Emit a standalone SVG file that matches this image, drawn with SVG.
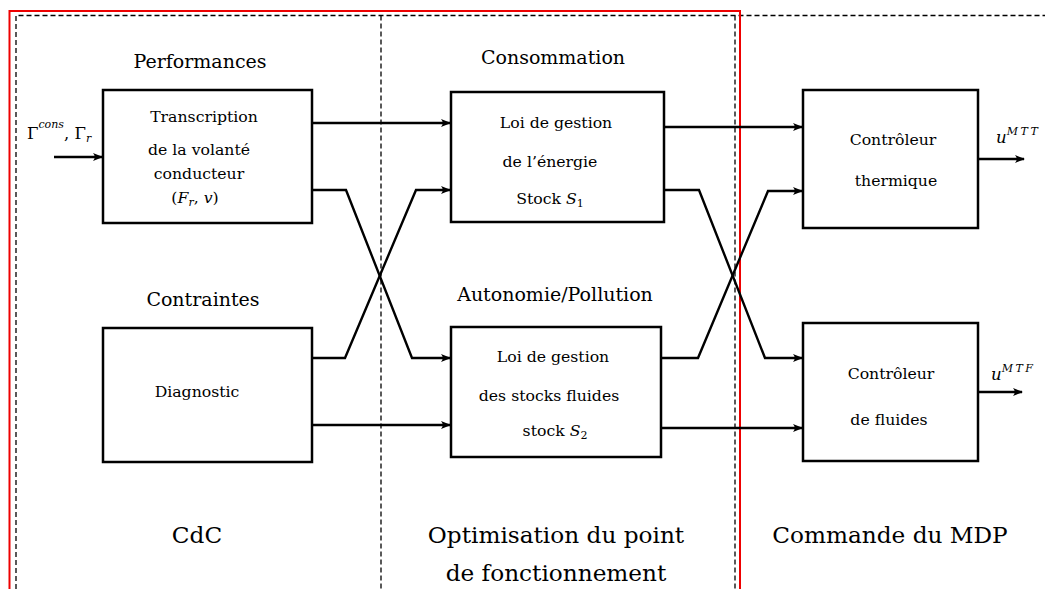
<svg xmlns="http://www.w3.org/2000/svg" width="1045" height="589" viewBox="0 0 1045 589">
<style>
text{font-family:'DejaVu Serif',serif;fill:#000}
.h{font-size:19px;text-anchor:middle}
.b{font-size:15.7px;text-anchor:middle}
.big{font-size:23.2px;text-anchor:middle}
.m{font-size:16.5px}
.s{font-size:11px;font-style:italic}
.sc{font-size:11px;font-style:italic;letter-spacing:2.5px}
.i{font-style:italic}
.box{fill:#fff;stroke:#000;stroke-width:2.5}
.c{fill:none;stroke:#000;stroke-width:2.4;marker-end:url(#arr)}
.d{fill:none;stroke:#000;stroke-width:1.3;stroke-dasharray:5,3}
</style>
<defs>
<marker id="arr" markerWidth="11" markerHeight="10" refX="9" refY="5" orient="auto" markerUnits="userSpaceOnUse">
<path d="M0,1 Q3.5,5 0,9 L10,5 Z" fill="#000"/>
</marker>
</defs>
<rect width="1045" height="589" fill="#fff"/>
<g id="frames">
<path class="d" d="M16,589 V15.5 H1045"/>
<path class="d" d="M381,15.5 V589"/>
<path class="d" d="M735,15.5 V589"/>
<path d="M9.5,589 V11 H740 V589" fill="none" stroke="#e00" stroke-width="2"/>
</g>
<g id="connectors">
<path class="c" d="M54,157 H102"/>
<path class="c" d="M312,123 H450"/>
<path class="c" d="M312,190 H346 L412,358 H450"/>
<path class="c" d="M312,358 H345 L416,190 H450"/>
<path class="c" d="M312,425 H450"/>
<path class="c" d="M664,127 H802"/>
<path class="c" d="M664,190 H699 L765,358 H802"/>
<path class="c" d="M661,358 H698 L768,191 H802"/>
<path class="c" d="M661,428 H802"/>
<path class="c" d="M978,159 H1024"/>
<path class="c" d="M978,392 H1022"/>
</g>
<g id="labels">
<text class="h" x="200" y="68">Performances</text>
<text class="h" x="553" y="64">Consommation</text>
<text class="h" x="203" y="306">Contraintes</text>
<text class="h" x="555" y="301">Autonomie/Pollution</text>
<text class="big" x="197" y="543">CdC</text>
<text class="big" x="556" y="543">Optimisation du point</text>
<text class="big" x="556" y="581">de fonctionnement</text>
<text class="big" x="890" y="543">Commande du MDP</text>
<text class="m" x="27" y="139">Γ<tspan class="s" dy="-11">cons</tspan><tspan dy="11">, Γ</tspan><tspan class="s" dy="3">r</tspan></text>
<text class="m" x="996" y="143"><tspan class="i">u</tspan><tspan class="sc" dy="-8">MTT</tspan></text>
<text class="m" x="991" y="380"><tspan class="i">u</tspan><tspan class="sc" dy="-8">MTF</tspan></text>
</g>
<g id="transcription">
<rect class="box" x="103" y="90" width="209" height="133"/>
<text class="b" x="204" y="122">Transcription</text>
<text class="b" x="199" y="155">de la volanté</text>
<text class="b" x="199" y="179">conducteur</text>
<text class="b" x="195" y="203">(<tspan class="i">F</tspan><tspan class="s" dy="3">r</tspan><tspan dy="-3">, </tspan><tspan class="i">v</tspan>)</text>
</g>
<g id="diagnostic">
<rect class="box" x="103" y="328" width="209" height="134"/>
<text class="b" x="197" y="397">Diagnostic</text>
</g>
<g id="loi-energie">
<rect class="box" x="451" y="92" width="213" height="130"/>
<text class="b" x="556" y="128">Loi de gestion</text>
<text class="b" x="550" y="167">de l’énergie</text>
<text class="b" x="550" y="204">Stock <tspan class="i">S</tspan><tspan font-size="11" dy="3">1</tspan></text>
</g>
<g id="loi-stocks">
<rect class="box" x="451" y="327" width="210" height="130"/>
<text class="b" x="553" y="362">Loi de gestion</text>
<text class="b" x="549" y="401">des stocks fluides</text>
<text class="b" x="555" y="436">stock <tspan class="i">S</tspan><tspan font-size="11" dy="3">2</tspan></text>
</g>
<g id="ctrl-thermique">
<rect class="box" x="803" y="90" width="175" height="138"/>
<text class="b" x="893" y="145">Contrôleur</text>
<text class="b" x="896" y="186">thermique</text>
</g>
<g id="ctrl-fluides">
<rect class="box" x="803" y="323" width="175" height="138"/>
<text class="b" x="891" y="379">Contrôleur</text>
<text class="b" x="889" y="425">de fluides</text>
</g>
</svg>
